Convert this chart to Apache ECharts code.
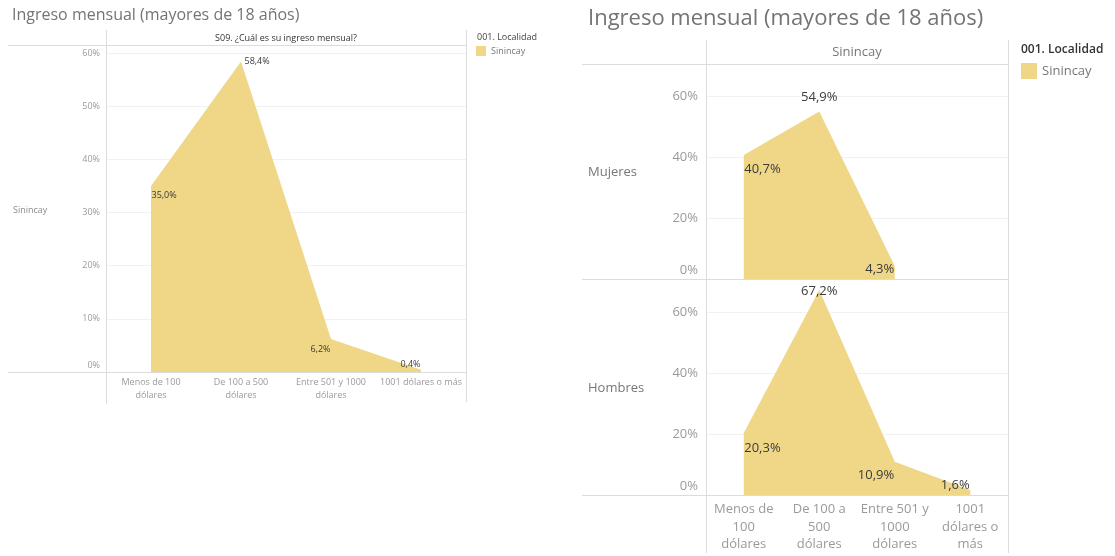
<!DOCTYPE html>
<html>
<head>
<meta charset="utf-8">
<script src="https://cdn.jsdelivr.net/npm/echarts@6/dist/echarts.min.js"></script>
<style>
  html, body { margin: 0; padding: 0; background: #ffffff; }
  #chart { width: 1115px; height: 556px; }
</style>
</head>
<body>
<div id="chart"></div>
<script>
// ---- data ----
const categories = ['Menos de 100 dólares', 'De 100 a 500 dólares', 'Entre 501 y 1000 dólares', '1001 dólares o más'];
const tickLabelsTotal = ['Menos de 100\ndólares', 'De 100 a 500\ndólares', 'Entre 501 y 1000\ndólares', '1001 dólares o más'];
const tickLabelsBySex = ['Menos de\n100\ndólares', 'De 100 a\n500\ndólares', 'Entre 501 y\n1000\ndólares', '1001\ndólares o\nmás'];
const totalSinincay = [35.0, 58.4, 6.2, 0.4];
const mujeres = [40.7, 54.9, 4.3, null];
const hombres = [20.3, 67.2, 10.9, 1.6];
const rowLabels = ['Mujeres', 'Hombres'];
const titleText = 'Ingreso mensual (mayores de 18 años)';
const headerTotal = 'S09. ¿Cuál es su ingreso mensual?';
const locality = 'Sinincay';
const legendTitle = '001. Localidad';

// ---- styling ----
const FONT = '"Open Sans", "Noto Sans", sans-serif';
const AREA = '#F0D788';
const RULE = '#dcdcdc';
const GRIDLINE = '#f1f1f1';
const AXIS_TEXT = '#9a9a9a';
const LABEL_TEXT = '#3a3a3a';

// where each value label sits relative to its point
const placeTotal = [
  { position: 'right', distance: 0, offset: [0, 10] },
  { position: 'right', distance: 3, offset: [0, 0] },
  { position: 'left', distance: 0, offset: [0, 10] },
  { position: 'left', distance: 0, offset: [0, -5] }
];
const placeMujeres = [
  { position: 'right', distance: 0, offset: [0, 14] },
  { position: 'top', distance: 7, offset: [0, 0] },
  { position: 'left', distance: 0, offset: [0, 3] },
  null
];
const placeHombres = [
  { position: 'right', distance: 0, offset: [0, 15] },
  { position: 'inside', distance: 0, offset: [0, 1] },
  { position: 'left', distance: 0, offset: [0, 14] },
  { position: 'left', distance: 0, offset: [0, -5] }
];

const fmtPct = v => v.toFixed(1).replace('.', ',') + '%';

function points(values, places, fontSize) {
  return values.map((v, i) => {
    if (v === null) return '-';
    return {
      value: v,
      label: Object.assign({
        show: true,
        color: LABEL_TEXT,
        fontSize: fontSize,
        fontFamily: FONT,
        formatter: p => fmtPct(p.value)
      }, places[i])
    };
  });
}

function areaSeries(values, places, idx, fontSize) {
  return {
    name: locality,
    type: 'line',
    xAxisIndex: idx,
    yAxisIndex: idx,
    data: points(values, places, fontSize),
    symbol: 'circle',
    symbolSize: 1,
    showSymbol: true,
    color: AREA,
    itemStyle: { color: 'rgba(0,0,0,0)' },
    lineStyle: { width: 0, color: AREA },
    areaStyle: { color: AREA, opacity: 1 },
    emphasis: { disabled: true },
    silent: true,
    animation: false,
    z: 2
  };
}

function xAxis(idx, labels, fontSize, lineHeight, margin) {
  return {
    type: 'category',
    gridIndex: idx,
    data: categories,
    boundaryGap: true,
    axisLine: { show: false },
    axisTick: { show: false },
    splitLine: { show: false },
    axisLabel: labels ? {
      show: true,
      interval: 0,
      color: AXIS_TEXT,
      fontSize: fontSize,
      lineHeight: lineHeight,
      fontFamily: FONT,
      margin: margin,
      formatter: (v, i) => labels[i]
    } : { show: false }
  };
}

function yAxis(idx, max, interval, fontSize, margin, zeroLift) {
  return {
    type: 'value',
    gridIndex: idx,
    min: 0,
    max: max,
    interval: interval,
    axisLine: { show: false },
    axisTick: { show: false },
    splitLine: { show: true, lineStyle: { color: GRIDLINE, width: 1 } },
    axisLabel: {
      color: AXIS_TEXT,
      fontSize: fontSize,
      fontFamily: FONT,
      margin: margin,
      formatter: v => (v % interval !== 0) ? '' : (v === 0 ? '{z|0%}' : v + '%'),
      rich: { z: { color: AXIS_TEXT, fontSize: fontSize, fontFamily: FONT, padding: [0, 0, zeroLift, 0] } }
    }
  };
}

function hLine(x1, x2, y) {
  return { type: 'line', silent: true, z: 10, shape: { x1: x1, y1: y + 0.5, x2: x2, y2: y + 0.5 }, style: { stroke: RULE, lineWidth: 1 } };
}
function vLine(x, y1, y2) {
  return { type: 'line', silent: true, z: 10, shape: { x1: x + 0.5, y1: y1, x2: x + 0.5, y2: y2 }, style: { stroke: RULE, lineWidth: 1 } };
}
function txt(x, y, text, size, color, align, weight) {
  return { type: 'text', silent: true, z: 11, x: x, y: y,
    style: { text: text, fontSize: size, fontFamily: FONT, fill: color, align: align || 'left', verticalAlign: 'middle', fontWeight: weight || 'normal' } };
}

const chart = echarts.init(document.getElementById('chart'), null, { renderer: 'canvas' });

chart.setOption({
  animation: false,
  backgroundColor: '#ffffff',
  title: [
    { text: titleText, left: 7, top: 2, padding: 5, textStyle: { fontSize: 16, color: '#747474', fontWeight: 'normal', fontFamily: FONT } },
    { text: titleText, left: 583, top: 3, padding: 5, textStyle: { fontSize: 22, color: '#747474', fontWeight: 'normal', fontFamily: FONT } }
  ],
  legend: [
    { data: [locality], left: 476, top: 46, orient: 'vertical', selectedMode: false, icon: 'rect',
      itemWidth: 10, itemHeight: 10, itemGap: 4, padding: 0,
      itemStyle: { color: AREA },
      textStyle: { fontSize: 9, color: '#777777', fontFamily: FONT } },
    { data: [locality], left: 1021, top: 63, orient: 'vertical', selectedMode: false, icon: 'rect',
      itemWidth: 16, itemHeight: 16, itemGap: 4, padding: 0,
      itemStyle: { color: AREA },
      textStyle: { fontSize: 13, color: '#777777', fontFamily: FONT } }
  ],
  grid: [
    { left: 106, top: 45, width: 360, height: 327 },
    { left: 706, top: 64, width: 302, height: 215 },
    { left: 706, top: 279, width: 302, height: 216 }
  ],
  xAxis: [
    xAxis(0, tickLabelsTotal, 9, 13, 4),
    xAxis(1, null),
    xAxis(2, tickLabelsBySex, 13, 17.5, 6)
  ],
  yAxis: [
    yAxis(0, 61.5, 10, 9, 6, 14),
    yAxis(1, 70.5, 20, 13, 8, 18),
    yAxis(2, 70.8, 20, 13, 8, 18)
  ],
  series: [
    areaSeries(totalSinincay, placeTotal, 0, 9),
    areaSeries(mujeres, placeMujeres, 1, 13),
    areaSeries(hombres, placeHombres, 2, 13)
  ],
  graphic: [
    // table rules, total panel
    hLine(8, 466, 45),
    hLine(8, 466, 372),
    vLine(106, 30, 404),
    vLine(466, 30, 402),
    // table rules, by-sex panel
    hLine(582, 1008, 64),
    hLine(582, 1008, 279),
    hLine(582, 1008, 495),
    vLine(706, 40, 553),
    vLine(1008, 40, 553),
    // headers and row labels
    txt(286, 38, headerTotal, 9, '#333333', 'center'),
    txt(13, 210, locality, 9, '#8a8a8a'),
    txt(857, 52, locality, 13, '#777777', 'center'),
    txt(588, 172, rowLabels[0], 13, '#777777'),
    txt(588, 388, rowLabels[1], 13, '#777777'),
    // legend headings
    txt(477, 37, legendTitle, 9, '#444444'),
    txt(1021, 50, legendTitle, 12, '#333333', 'left', 600)
  ]
});
</script>
</body>
</html>
